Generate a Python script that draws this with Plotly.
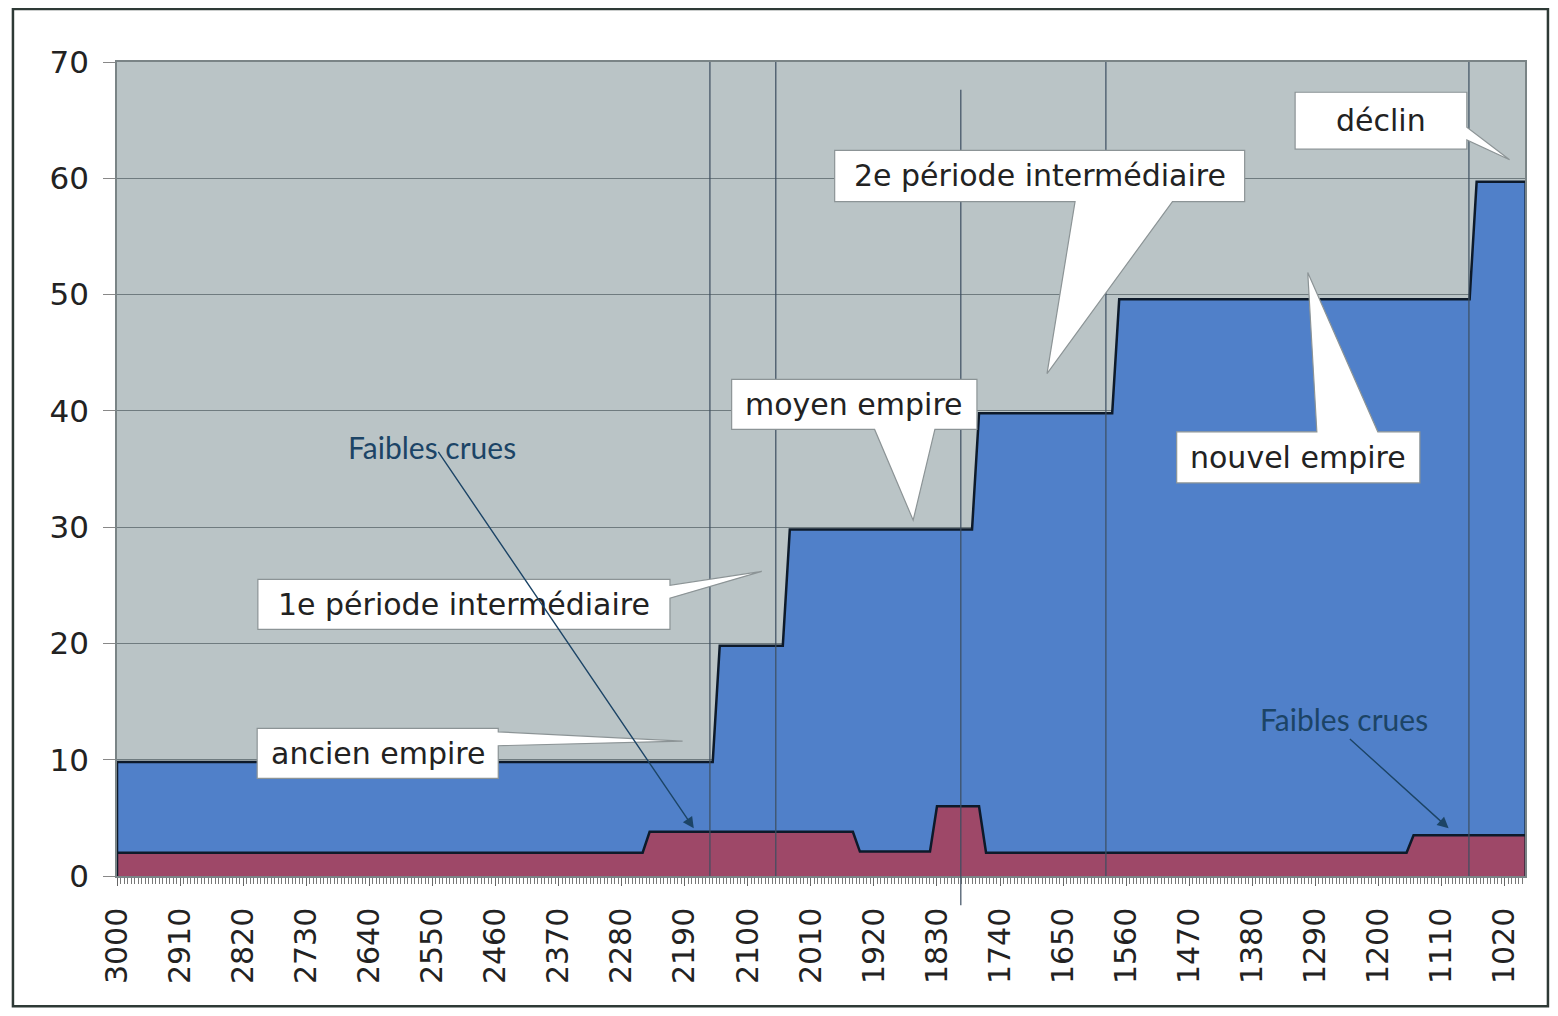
import plotly.graph_objects as go

# ---------------- data ----------------
# blue series (dynasty/periods level), breakpoints: year BC -> value
blue_years = [3000, 2150, 2140, 2050, 2040, 1780, 1770, 1580, 1570, 1070, 1060, 990]
blue_values = [9.8, 9.8, 19.8, 19.8, 29.8, 29.8, 39.8, 39.8, 49.6, 49.6, 59.7, 59.7]

# red series (Nile floods), breakpoints
red_years = [3000, 2250, 2240, 1950, 1940, 1840, 1830, 1770, 1760, 1160, 1150, 990]
red_values = [2.0, 2.0, 3.8, 3.8, 2.1, 2.1, 6.0, 6.0, 2.0, 2.0, 3.5, 3.5]

x_tick_vals = [3000, 2910, 2820, 2730, 2640, 2550, 2460, 2370, 2280, 2190, 2100,
               2010, 1920, 1830, 1740, 1650, 1560, 1470, 1380, 1290, 1200, 1110, 1020]
x_tick_text = [str(v) for v in x_tick_vals]
y_tick_vals = [0, 10, 20, 30, 40, 50, 60, 70]

# period boundary lines (year BC)
period_lines = [2154, 2060, 1589, 1071]
period_line_long = 1796

# ---------------- style ----------------
BLUE = "#5080c9"
RED = "#9e4868"
PLOT_BG = "#bac4c6"
GRID = "#6f7b7f"
VLINE = "#3c4e60"
TXT = "#222222"
ARROW = "#1c4466"
FONT = "DejaVu Sans"

fig = go.Figure()


def closed(xs, ys):
    return [xs[0]] + list(xs) + [xs[-1]], [0] + list(ys) + [0]


bx, by = closed(blue_years, blue_values)
rx, ry = closed(red_years, red_values)

fig.add_trace(go.Scatter(x=bx, y=by, mode="lines", fill="toself", fillcolor=BLUE,
                         line=dict(color="#0d1a2a", width=2.5), hoverinfo="skip",
                         showlegend=False))
fig.add_trace(go.Scatter(x=rx, y=ry, mode="lines", fill="toself", fillcolor=RED,
                         line=dict(color="#0d1a2a", width=2.5), hoverinfo="skip",
                         showlegend=False))

shapes = []
for yr in period_lines:
    shapes.append(dict(type="line", xref="x", yref="paper", x0=yr, x1=yr, y0=0, y1=1,
                       line=dict(color=VLINE, width=1.2), layer="above"))
shapes.append(dict(type="line", xref="x", yref="paper", x0=period_line_long, x1=period_line_long,
                   y0=-0.036, y1=0.966, line=dict(color=VLINE, width=1.2), layer="above"))

# ---------------- callouts ----------------
# box: (left_year, right_year, bottom_val, top_val); wedge: side, base a, base b, tip (year, val)
callouts = [
    dict(text="ancien empire", box=(2800, 2456, 8.4, 12.7), side="right",
         base=(12.4, 11.2), tip=(2193, 11.6)),
    dict(text="1e période intermédiaire", box=(2799, 2211, 21.2, 25.5), side="right",
         base=(25.0, 23.9), tip=(2080, 26.2)),
    dict(text="moyen empire", box=(2123, 1773, 38.4, 42.7), side="bottom",
         base=(1919, 1833), tip=(1864, 30.6)),
    dict(text="2e période intermédiaire", box=(1976, 1391, 58.0, 62.4), side="bottom",
         base=(1633, 1494), tip=(1673, 43.2)),
    dict(text="nouvel empire", box=(1488, 1141, 33.8, 38.2), side="top",
         base=(1288, 1201), tip=(1301, 51.9)),
    dict(text="déclin", box=(1319, 1074, 62.5, 67.4), side="right",
         base=(64.4, 63.3), tip=(1013, 61.6)),
]


def callout_path(c):
    x0, x1, y0, y1 = c["box"]
    a, b = c["base"]
    tx, ty = c["tip"]
    if c["side"] == "right":
        pts = [(x0, y1), (x1, y1), (x1, a), (tx, ty), (x1, b), (x1, y0), (x0, y0)]
    elif c["side"] == "bottom":
        pts = [(x0, y1), (x1, y1), (x1, y0), (b, y0), (tx, ty), (a, y0), (x0, y0)]
    else:  # top
        pts = [(x0, y1), (a, y1), (tx, ty), (b, y1), (x1, y1), (x1, y0), (x0, y0)]
    return "M " + " L ".join(f"{p[0]},{p[1]}" for p in pts) + " Z"


annotations = []
for c in callouts:
    shapes.append(dict(type="path", xref="x", yref="y", path=callout_path(c),
                       fillcolor="white", line=dict(color="#8c9496", width=1.2),
                       layer="above"))
    x0, x1, y0, y1 = c["box"]
    annotations.append(dict(x=(x0 + x1) / 2, y=(y0 + y1) / 2, xref="x", yref="y",
                            text=c["text"], showarrow=False,
                            font=dict(family=FONT, size=30, color=TXT)))

# outer frame
shapes.append(dict(type="rect", xref="paper", yref="paper", x0=-0.0739, x1=1.0163,
                   y0=-0.160, y1=1.065, line=dict(color="#2e3a36", width=2.5),
                   fillcolor="rgba(0,0,0,0)", layer="below"))

# "Faibles crues" notes with arrows
notes = [
    dict(text="Faibles crues", pos=(2550, 36.9), tail=(2543, 36.6), head=(2177, 4.1)),
    dict(text="Faibles crues", pos=(1249, 13.5), tail=(1243, 11.9), head=(1100, 4.1)),
]
for n in notes:
    annotations.append(dict(x=n["head"][0], y=n["head"][1], ax=n["tail"][0], ay=n["tail"][1],
                            xref="x", yref="y", axref="x", ayref="y", text="",
                            showarrow=True, arrowhead=2, arrowsize=1.6, arrowwidth=1.4,
                            arrowcolor=ARROW))
    annotations.append(dict(x=n["pos"][0], y=n["pos"][1], xref="x", yref="y",
                            text=n["text"], showarrow=False,
                            font=dict(family="Lato", size=30, color=ARROW)))

fig.update_layout(
    width=1542, height=1000,
    margin=dict(l=109, r=25, t=54, b=132),
    paper_bgcolor="white", plot_bgcolor=PLOT_BG,
    shapes=shapes, annotations=annotations,
    xaxis=dict(range=[3000, 991], tickmode="array", tickvals=x_tick_vals, ticktext=x_tick_text,
               tickangle=-90, tickfont=dict(family=FONT, size=30, color=TXT),
               ticks="outside", ticklen=8, tickcolor="#666", showgrid=False,
               showline=True, linecolor="#7a8486", linewidth=1.5, mirror=True,
               ticklabelstandoff=10, zeroline=False,
               minor=dict(ticks="outside", ticklen=6, tickcolor="#777", tick0=3000, dtick=5,
                          showgrid=False)),
    yaxis=dict(range=[0, 70], tickmode="array", tickvals=y_tick_vals,
               tickfont=dict(family=FONT, size=31, color=TXT),
               ticks="outside", ticklen=12, tickcolor="#888", showgrid=True,
               gridcolor=GRID, gridwidth=1, showline=True, linecolor="#7a8486",
               linewidth=1.5, mirror=True, zeroline=False, ticklabelstandoff=8),
)

fig.write_html("out.html")
